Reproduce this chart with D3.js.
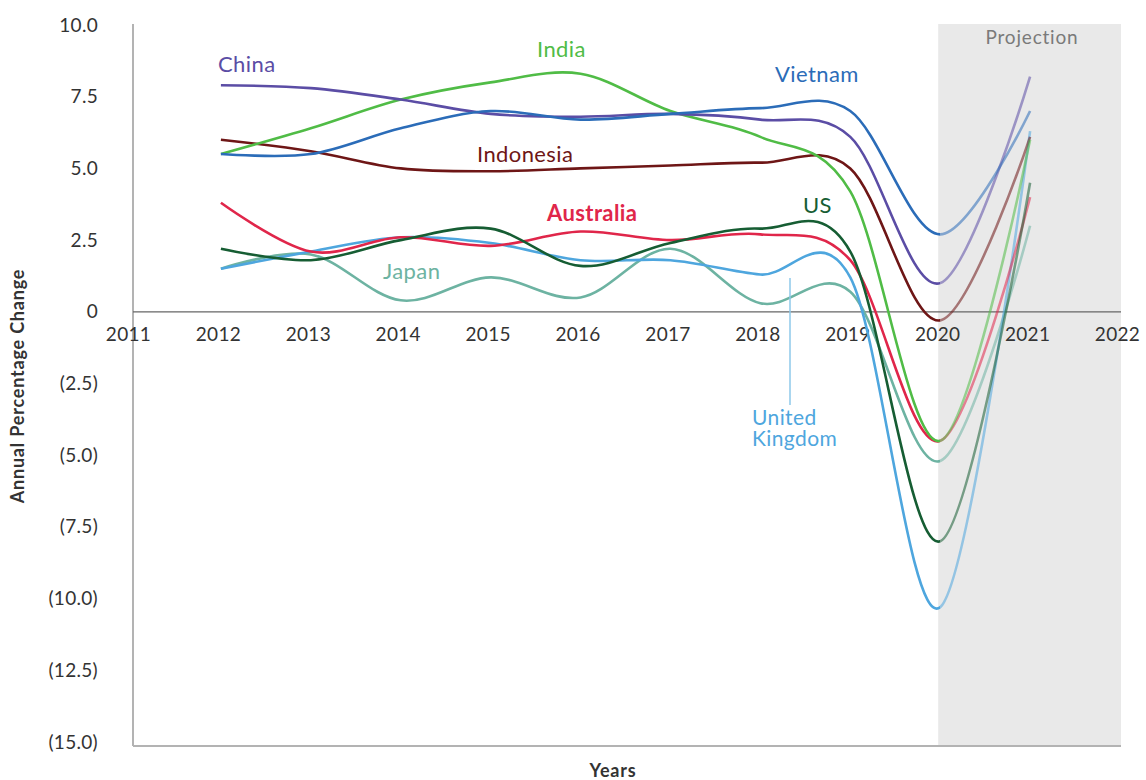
<!DOCTYPE html>
<html>
<head>
<meta charset="utf-8">
<script src="https://cdn.jsdelivr.net/npm/d3@7"></script>
<style>
  body { margin: 0; background: #fff; }
  svg text { font-family: Lato, "Open Sans", sans-serif; }
</style>
</head>
<body>
<svg id="chart" width="1146" height="780"></svg>
<script>
var years = [2012, 2013, 2014, 2015, 2016, 2017, 2018, 2019, 2020, 2021];

var china     = [7.9, 7.8, 7.4, 6.9, 6.8, 6.9, 6.7, 6.1, 1.0, 8.2];
var india     = [5.5, 6.4, 7.4, 8.0, 8.3, 7.0, 6.1, 4.2, -4.5, 6.0];
var vietnam   = [5.5, 5.5, 6.4, 7.0, 6.7, 6.9, 7.1, 7.0, 2.7, 7.0];
var indonesia = [6.0, 5.6, 5.0, 4.9, 5.0, 5.1, 5.2, 5.0, -0.3, 6.1];
var australia = [3.8, 2.1, 2.6, 2.3, 2.8, 2.5, 2.7, 1.8, -4.5, 4.0];
var us        = [2.2, 1.8, 2.5, 2.9, 1.6, 2.4, 2.9, 2.1, -8.0, 4.5];
var japan     = [1.5, 2.0, 0.4, 1.2, 0.5, 2.2, 0.3, 0.7, -5.2, 3.0];
var uk        = [1.5, 2.1, 2.6, 2.4, 1.8, 1.8, 1.3, 1.2, -10.3, 6.3];

var xTicks = [2011, 2012, 2013, 2014, 2015, 2016, 2017, 2018, 2019, 2020, 2021, 2022];
var yTicks = [10, 7.5, 5, 2.5, 0, -2.5, -5, -7.5, -10, -12.5, -15];
var projectionStart = 2020;

var series = [
  {name: "Japan",     values: japan,     color: "#6db3a2"},
  {name: "UK",        values: uk,        color: "#4ea6de"},
  {name: "Australia", values: australia, color: "#e0264a"},
  {name: "US",        values: us,        color: "#165d33"},
  {name: "Indonesia", values: indonesia, color: "#6e1616"},
  {name: "India",     values: india,     color: "#50bc46"},
  {name: "China",     values: china,     color: "#5b4da5"},
  {name: "Vietnam",   values: vietnam,   color: "#2b6cb8"}
];

var svg = d3.select("#chart");

var x = d3.scaleLinear().domain([2011, 2022]).range([131, 1120]);
var y = d3.scaleLinear().domain([-15, 10]).range([742, 25]);

var plotTop = 24, plotBottom = 746, plotLeft = 133, plotRight = 1121;

// projection shading
svg.append("rect")
    .attr("x", x(projectionStart) - 2)
    .attr("y", plotTop)
    .attr("width", plotRight - x(projectionStart) + 2)
    .attr("height", plotBottom - plotTop)
    .attr("fill", "#e9e9e9");

svg.append("text")
    .attr("x", 1032)
    .attr("y", 44)
    .attr("text-anchor", "middle")
    .attr("fill", "#7a7a7a")
    .style("font-size", "19px")
    .style("letter-spacing", "0.8px")
    .text("Projection");

// axes lines
svg.append("line")
    .attr("x1", plotLeft).attr("x2", plotLeft)
    .attr("y1", plotTop).attr("y2", plotBottom)
    .attr("stroke", "#b3b3b3").attr("stroke-width", 2);

svg.append("line")
    .attr("x1", plotLeft).attr("x2", plotRight)
    .attr("y1", plotBottom).attr("y2", plotBottom)
    .attr("stroke", "#b3b3b3").attr("stroke-width", 2);

svg.append("line")
    .attr("x1", plotLeft).attr("x2", plotRight)
    .attr("y1", y(0)).attr("y2", y(0))
    .attr("stroke", "#666").attr("stroke-width", 1.2);

// y tick labels
var yAxis = d3.axisLeft(y)
    .tickValues(yTicks)
    .tickSize(0)
    .tickPadding(0)
    .tickFormat(function(d) {
      if (d == 0) return "0";
      return d < 0 ? "(" + d3.format(".1f")(-d) + ")" : d3.format(".1f")(d);
    });

var gy = svg.append("g")
    .attr("transform", "translate(98,0)")
    .call(yAxis);
gy.select(".domain").remove();
gy.selectAll("text")
    .attr("fill", "#333")
    .style("font-size", "19px")
    .style("letter-spacing", "0.3px")
    .style("font-family", "Lato, sans-serif");

// x tick labels
var xAxis = d3.axisBottom(x)
    .tickValues(xTicks)
    .tickSize(0)
    .tickPadding(0)
    .tickFormat(d3.format("d"));

var gx = svg.append("g")
    .attr("transform", "translate(-3," + (y(0) + 16) + ")")
    .call(xAxis);
gx.select(".domain").remove();
gx.selectAll("text")
    .attr("fill", "#333")
    .style("font-size", "19px")
    .style("letter-spacing", "0.3px")
    .style("font-family", "Lato, sans-serif");

// axis titles
svg.append("text")
    .attr("transform", "translate(24,386) rotate(-90)")
    .attr("text-anchor", "middle")
    .attr("fill", "#333")
    .style("font-size", "18px")
    .style("font-weight", "bold")
    .style("letter-spacing", "0.8px")
    .text("Annual Percentage Change");

svg.append("text")
    .attr("x", 613)
    .attr("y", 777)
    .attr("text-anchor", "middle")
    .attr("fill", "#333")
    .style("font-size", "18px")
    .style("font-weight", "bold")
    .style("letter-spacing", "0.8px")
    .text("Years");

// clips for history / projection parts
var defs = svg.append("defs");
defs.append("clipPath").attr("id", "clip-hist")
  .append("rect")
    .attr("x", 0).attr("y", 0)
    .attr("width", x(projectionStart)).attr("height", 780);
defs.append("clipPath").attr("id", "clip-proj")
  .append("rect")
    .attr("x", x(projectionStart)).attr("y", 0)
    .attr("width", 1146 - x(projectionStart)).attr("height", 780);

var line = d3.line()
    .x(function(d, i) { return x(years[i]); })
    .y(function(d) { return y(d); })
    .curve(d3.curveCardinal.tension(0));

var lines = svg.append("g");

series.forEach(function(s) {
  lines.append("path")
      .attr("d", line(s.values))
      .attr("fill", "none")
      .attr("stroke", s.color)
      .attr("stroke-width", 2.6)
      .attr("clip-path", "url(#clip-hist)");
  lines.append("path")
      .attr("d", line(s.values))
      .attr("fill", "none")
      .attr("stroke", s.color)
      .attr("stroke-opacity", 0.55)
      .attr("stroke-width", 2.6)
      .attr("clip-path", "url(#clip-proj)");
});

// series labels
function label(txt, lx, ly, color, bold) {
  return svg.append("text")
      .attr("x", lx)
      .attr("y", ly)
      .attr("fill", color)
      .style("font-size", "22px")
      .style("font-weight", bold ? "bold" : "normal")
      .style("letter-spacing", "0.4px")
      .text(txt);
}

label("China", 218, 72, "#5b4da5");
label("India", 537, 57, "#50bc46");
label("Vietnam", 775, 82, "#2b6cb8");
label("Indonesia", 477, 162, "#6e1616");
label("Australia", 547, 221, "#e0264a", true);
label("US", 803, 213, "#165d33");
label("Japan", 383, 279, "#6db3a2");

// UK label on two lines
var ukLabel = label("", 752, 425, "#4ea6de").style("font-size", "21px");
ukLabel.append("tspan").attr("x", 752).attr("dy", 0).text("United");
ukLabel.append("tspan").attr("x", 752).attr("dy", 21).text("Kingdom");

// leader line for UK
svg.append("line")
    .attr("x1", 790).attr("x2", 790)
    .attr("y1", 278).attr("y2", 405)
    .attr("stroke", "#8ec8ea")
    .attr("stroke-width", 1.5);
</script>
</body>
</html>
